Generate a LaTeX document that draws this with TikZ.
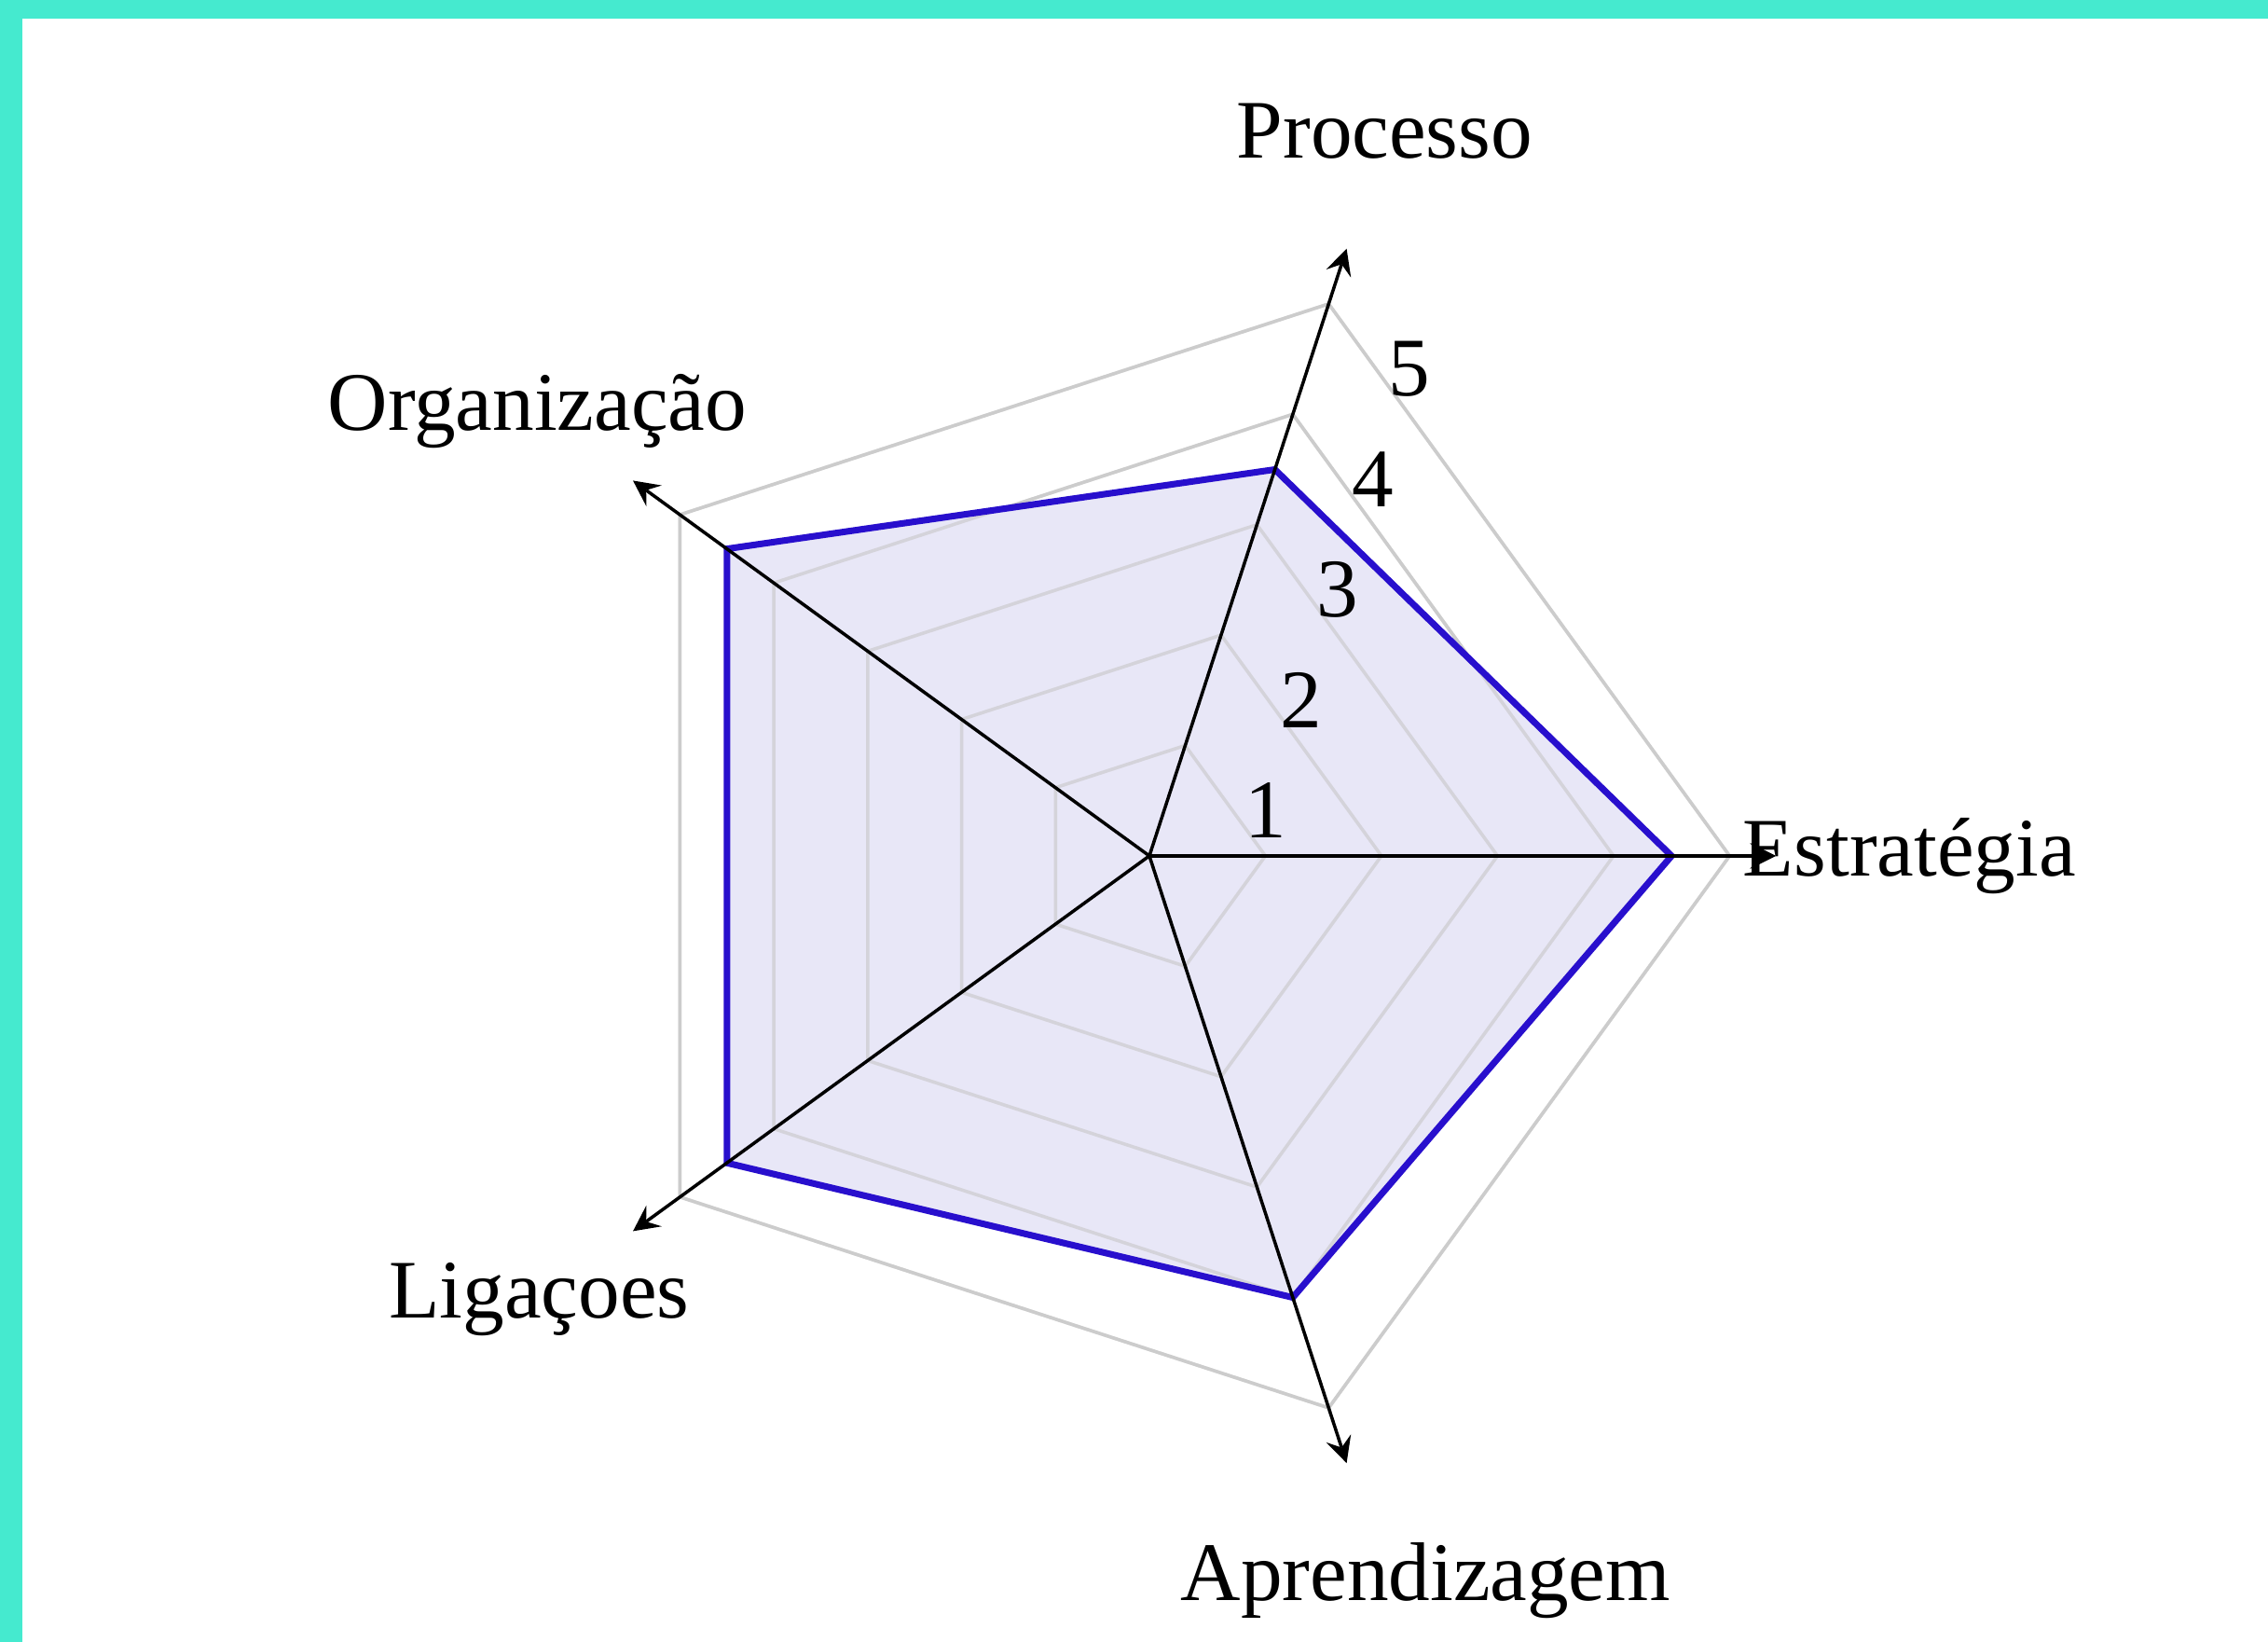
\documentclass[tikz,border=0pt]{standalone}
\usepackage{fontspec}
\setmainfont{Liberation Serif}
\usepackage{tikz}
\usetikzlibrary{arrows.meta}
\definecolor{frame}{RGB}{69,234,207}
\definecolor{radarline}{RGB}{40,15,205}
\definecolor{radarfill}{RGB}{229,227,246}
\tikzset{>=stealth}
\tikzset{
  gridline/.style={draw=gray!40,line width=0.4pt},
  axisline/.style={->,black,line width=0.4pt},
  valueline/.style={draw=radarline,line width=0.8pt,line join=miter},
  axislabel/.style={inner sep=0pt,font=\fontsize{10.2}{12}\selectfont},
  ticklabel/.style={above,inner sep=2pt,font=\fontsize{10.2}{12}\selectfont}
}

\begin{document}
\begin{tikzpicture}[scale=0.5]
    \useasboundingbox (-9.904,-6.771) rectangle (9.639,7.373);
    \fill[frame] (-9.904,-6.771) rectangle (9.639,7.373);
    \fill[white] (-9.711,-6.771) rectangle (9.639,7.212);
    \coordinate (O) at (0,0);
    \foreach \r in {1,...,5}
        \draw[gridline] (0:\r) -- (72:\r) -- (144:\r) -- (216:\r) -- (288:\r) -- cycle;
    \fill[radarfill,fill opacity=0.85] (0:4.5) -- (72:3.5) -- (144:4.5) -- (216:4.5) -- (288:4) -- cycle;
    \foreach \r in {1,...,5}
        \draw[gridline,opacity=0.6] (0:\r) -- (72:\r) -- (144:\r) -- (216:\r) -- (288:\r) -- cycle;
    \draw[valueline] (0:4.5) -- (72:3.5) -- (144:4.5) -- (216:4.5) -- (288:4) -- cycle;
    \coordinate (aEst) at (0:5.4);
    \coordinate (aPro) at (72:5.5);
    \coordinate (aOrg) at (144:5.5);
    \coordinate (aLig) at (216:5.5);
    \coordinate (aApr) at (288:5.5);
    \draw[axisline] (O) -- (aEst);
    \draw[axisline] (O) -- (aPro);
    \draw[axisline] (O) -- (aOrg);
    \draw[axisline] (O) -- (aLig);
    \draw[axisline] (O) -- (aApr);
    \foreach \k in {1,...,5}
        \node[ticklabel] (n\k) at ({1+0.309*(\k-1)},{0.951*(\k-1)}) {\k};
    \node[axislabel] (lEst) at (6.55,0) {Estratégia};
    \node[axislabel] (lPro) at (72:6.56) {Processo};
    \node[axislabel] (lOrg) at (144:6.52) {Organização};
    \node[axislabel] (lLig) at (216:6.5) {Ligaçoes};
    \node[axislabel] (lApr) at (2.38,-6.24) {Aprendizagem};
\end{tikzpicture}
\end{document}
